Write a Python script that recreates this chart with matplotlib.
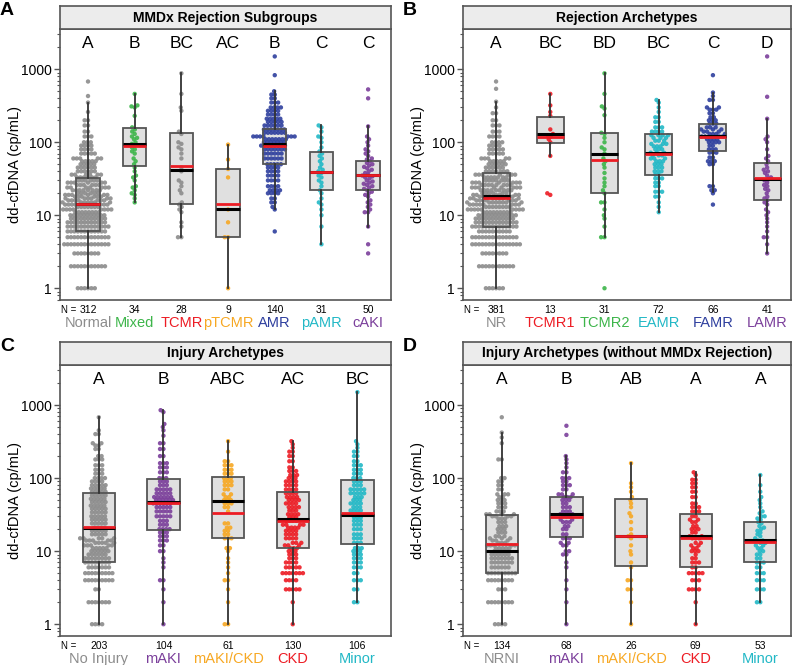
import numpy as np
import matplotlib.pyplot as plt
from matplotlib.ticker import LogLocator, NullFormatter

plt.rcParams['font.family'] = ['Liberation Sans', 'DejaVu Sans']

GRAY, GREEN, RED, ORANGE = '#8c8c8c', '#3db54a', '#ed1c24', '#f7a823'
BLUE, CYAN, PURPLE = '#2e3f9e', '#22b8c6', '#7b3f9b'

# ---------------- data ----------------
# points: plain value, or (value, count) for repeated values
A_title = "MMDx Rejection Subgroups"
A_groups = ["Normal", "Mixed", "TCMR", "pTCMR", "AMR", "pAMR", "cAKI"]
A_n = [312, 34, 28, 9, 140, 31, 50]
A_letters = ["A", "B", "BC", "AC", "B", "C", "C"]
A_label_colors = [GRAY, GREEN, RED, ORANGE, BLUE, CYAN, PURPLE]
A_point_colors = [GRAY, GREEN, GRAY, ORANGE, BLUE, CYAN, PURPLE]
A_q1 = [6.1, 48, 14.4, 5, 51, 22, 22]
A_med = [14.2, 96, 42, 12.2, 96, 39, 36]
A_q3 = [32, 158, 135, 43, 150, 73, 55]
A_lo = [1, 15, 5, 1, 12, 4, 7]
A_hi = [350, 460, 880, 93, 500, 170, 165]
A_mean = [14.3, 89, 48, 14.2, 89, 39, 36]
A_points = [
    [(1, 6), (2, 11), (3, 8), (4, 14), (5, 13), (6, 12), (7, 13), (8, 12), (9, 11), (10, 11),
     (11, 8), (12, 8), (13, 7), (14, 7), (15, 7), (16, 7), (17, 6), (18, 6), (19, 6), (20, 6),
     (22, 8), (24, 7), (26, 6), (28, 6), (30, 6), (33, 6), (36, 6), (40, 6), (45, 6), (50, 5),
     (55, 5), (60, 5), (70, 5), (80, 4), (90, 4), (100, 3), (120, 3), (140, 2), (170, 2),
     (200, 2), 260, 350, 430, 680],
    [460, 320, 310, 300, 230, 160, 150, 140, 130, 120, 115, 110, 100, 95, 90, 85, 80, 75,
     70, 60, 55, 50, 45, 40, 35, 33, 30, 25, 24, 22, 20, 19, 17, 15],
    [880, 460, 300, 270, 140, 130, 100, 95, 85, 80, 70, 60, 45, 40, 30, 28, 25, 22, 20, 15,
     14, 13, 12, 11, 8, 7, 5, 5],
    [93, 58, 43, 33, 12, 8, 5, 5, 1],
    [1500, 830, 500, (450, 2), (400, 2), (350, 3), (300, 4), (270, 4), (240, 4), (210, 5),
     (190, 5), (170, 6), (150, 7), (135, 7), (120, 7), (110, 7), (100, 7), (90, 8), (80, 7),
     (70, 6), (60, 6), (50, 5), (45, 4), (40, 4), (35, 4), (30, 4), (25, 4), (22, 4), (20, 4),
     (17, 2), (15, 2), 13, 12, 6],
    [170, 160, 140, 120, 115, 100, 85, 75, 70, 65, 60, 55, 50, 45, 42, 40, 38, 35, 33, 30,
     28, 25, 22, 20, 17, 15, 14, 12, 10, 7, 4],
    [530, 400, 165, 120, 110, 100, 90, 80, 75, 70, 65, 60, 58, 55, 52, 50, 48, 46, 44, 42,
     40, 38, 36, 35, 34, 33, 32, 30, 29, 28, 27, 26, 25, 24, 23, 22, 21, 20, 19, 18, 16, 15,
     14, 13, 12, 11, 11, 7, 4, 3],
]

B_title = "Rejection Archetypes"
B_groups = ["NR", "TCMR1", "TCMR2", "EAMR", "FAMR", "LAMR"]
B_n = [381, 13, 31, 72, 66, 41]
B_letters = ["A", "BC", "BD", "BC", "C", "D"]
B_label_colors = [GRAY, RED, GREEN, CYAN, BLUE, PURPLE]
B_point_colors = [GRAY, RED, GREEN, CYAN, BLUE, PURPLE]
B_q1 = [7, 97, 20.3, 36, 75, 16]
B_med = [18.4, 130, 70, 72, 122, 31.5]
B_q3 = [38, 225, 135, 128, 178, 52]
B_lo = [1, 65, 5, 11, 21, 3]
B_hi = [360, 460, 880, 380, 480, 210]
B_mean = [17.3, 118, 57, 68, 118, 32]
B_points = [
    [(1, 6), (2, 11), (3, 8), (4, 15), (5, 14), (6, 10), (7, 14), (8, 13), (9, 12), (10, 12),
     (11, 9), (12, 9), (13, 8), (14, 8), (15, 8), (16, 7), (17, 7), (18, 7), (19, 6), (20, 6),
     (22, 9), (24, 8), (26, 8), (28, 7), (30, 7), (33, 7), (36, 7), (40, 7), (45, 6), (50, 6),
     (55, 5), (60, 5), (70, 5), (80, 5), (90, 4), (100, 4), (120, 4), (140, 3), (170, 3),
     (200, 2), (250, 2), 300, 360, 540, 680],
    [460, 320, 260, 230, 150, 130, 125, 120, 110, 100, 65, 20, 19],
    [880, 460, 310, 290, 235, 135, 130, 115, 100, 85, 80, 70, 60, 55, 50, 45, 38, 32, 28, 25,
     22, 20, 15, 15, 12, 10, 9, 7, 5, 5, 1],
    [380, 350, 300, 260, (220, 2), (190, 2), (160, 3), (140, 4), (125, 4), (115, 3), (105, 3),
     (95, 3), (88, 3), (80, 3), (72, 3), (66, 3), (60, 3), (55, 3), (50, 3), (45, 3), (40, 3),
     (36, 2), (32, 3), (28, 2), (25, 2), (21, 3), (18, 2), 15, 13, 11],
    [830, 480, 430, (380, 2), (300, 2), (280, 3), (250, 2), (220, 2), (200, 3), (180, 3),
     (160, 3), (150, 3), (140, 3), (130, 4), (120, 4), (110, 4), (100, 4), (90, 2), (80, 3),
     (72, 3), (62, 2), (55, 3), (50, 2), (25, 2), (22, 2), 20, 14],
    [1500, 420, 210, 120, 110, 100, 80, 65, 60, 55, 50, 45, 42, 40, 38, 35, 33, 31, 30, 28,
     26, 25, 23, 22, 20, 18, 17, 16, 15, 14, 12, 11, 10, 9, 8, 7, 6, 5, 5, 4, 3],
]

C_title = "Injury Archetypes"
C_groups = ["No Injury", "mAKI", "mAKI/CKD", "CKD", "Minor"]
C_n = [203, 104, 61, 130, 106]
C_letters = ["A", "B", "ABC", "AC", "BC"]
C_label_colors = [GRAY, PURPLE, ORANGE, RED, CYAN]
C_point_colors = [GRAY, PURPLE, ORANGE, RED, CYAN]
C_q1 = [7, 19.7, 15, 11.1, 12.4]
C_med = [21, 47, 48.6, 27.3, 31]
C_q3 = [62, 97, 103, 64, 95]
C_lo = [1, 1, 1, 1, 2]
C_hi = [680, 850, 320, 320, 1500]
C_mean = [21.2, 45, 33.6, 26, 33.6]
C_points = [
    [(1, 4), (2, 7), (3, 2), (4, 9), (5, 9), (6, 7), (7, 8), (8, 8), (9, 6), (10, 6), (11, 5),
     (12, 5), (13, 5), (14, 5), (15, 5), (17, 5), (19, 5), (21, 4), (24, 5), (27, 5), (30, 5),
     (34, 5), (38, 5), (42, 5), (47, 5), (52, 5), (58, 5), (65, 5), (72, 5), (80, 5), (90, 4),
     (100, 4), (115, 3), (130, 3), (150, 3), (180, 3), (200, 2), (250, 2), (280, 2), (300, 2),
     (400, 2), 450, 680],
    [850, 800, 550, 500, 450, 380, (300, 2), (250, 2), (200, 2), (160, 3), (140, 3), (120, 3),
     (100, 3), (90, 3), (80, 3), (70, 5), (62, 5), (55, 6), (50, 6), (45, 6), (40, 5), (35, 5),
     (30, 5), (26, 3), (23, 3), (20, 4), (18, 3), (16, 3), (14, 3), (12, 2), (10, 2), 8, 7, 6,
     (4, 2), 3, 2, 1],
    [320, 230, (170, 2), (150, 3), (130, 3), (115, 3), (100, 3), (90, 3), (80, 3), (70, 2),
     (60, 2), (55, 2), (50, 3), (45, 3), (40, 2), 35, (24, 2), (21, 2), (19, 2), (17, 2),
     (15, 3), (11, 2), 10, 8, 7, 6, 5, (4, 2), 3, 2, (1, 2)],
    [320, 290, 260, (230, 2), (200, 2), (170, 2), (140, 2), (125, 3), (110, 3), (100, 3),
     (90, 4), (80, 4), (70, 4), (62, 4), (55, 4), (50, 4), (45, 4), (40, 4), (36, 3), (32, 4),
     (29, 3), (26, 4), (23, 4), (21, 4), (19, 4), (17, 4), (15, 4), (13, 3), (12, 3), (11, 3),
     (10, 3), (9, 3), (8, 3), (7, 4), (6, 5), (5, 7), (4, 4), (3, 5), 2, 1],
    [1500, 320, 290, 260, (230, 2), (200, 2), (170, 2), (150, 3), (130, 3), (115, 3), (100, 3),
     (90, 3), (80, 3), (70, 5), (62, 5), (55, 3), (50, 3), (45, 4), (40, 3), (36, 4), (32, 3),
     (29, 3), (26, 3), (23, 3), (20, 3), (17, 3), (15, 3), (13, 3), (11, 3), (10, 3), (9, 3),
     (8, 3), (7, 3), (6, 3), (5, 2), (4, 3), (3, 2), (2, 2)],
]

D_title = "Injury Archetypes (without MMDx Rejection)"
D_groups = ["NRNI", "mAKI", "mAKI/CKD", "CKD", "Minor"]
D_n = [134, 68, 26, 69, 53]
D_letters = ["A", "B", "AB", "A", "A"]
D_label_colors = [GRAY, PURPLE, ORANGE, RED, CYAN]
D_point_colors = [GRAY, PURPLE, ORANGE, RED, CYAN]
D_q1 = [5, 15.8, 6.3, 6, 7]
D_med = [10.1, 32, 16.3, 16.1, 14.1]
D_q3 = [31, 55, 51, 32, 25.3]
D_lo = [1, 1, 1, 1, 2]
D_hi = [420, 200, 160, 120, 110]
D_mean = [12.5, 29.7, 16.3, 15, 13.2]
D_points = [
    [(1, 4), (2, 8), (3, 3), (4, 8), (5, 9), (6, 6), (7, 7), (8, 7), (9, 6), (10, 5), (11, 5),
     (12, 5), (13, 3), (14, 3), (15, 3), (16, 3), (18, 3), (20, 3), (22, 3), (25, 3), (28, 3),
     (30, 4), (32, 4), (35, 3), (40, 3), (45, 3), (50, 3), (55, 2), (60, 3), (70, 2), (80, 2),
     (90, 2), (100, 2), (180, 2), 300, 360, 420, 680],
    [520, 390, 200, 180, 160, 140, (120, 2), (100, 3), (90, 2), (80, 3), (70, 2), (60, 3),
     (55, 3), (50, 3), (45, 2), (40, 3), (35, 3), (32, 2), (30, 3), (27, 2), (25, 3), (22, 2),
     (20, 2), (17, 2), (15, 3), (13, 2), (12, 2), (10, 2), (9, 2), 7, 6, 4, 3, 2, 1],
    [160, 85, 75, 65, 55, 50, 45, 40, 33, 30, 25, 20, 17, 16, 15, 12, 10, 9, 7, 6, 4, 4, 3,
     3, 2, 1],
    [120, 110, (95, 2), (85, 2), (75, 2), (65, 2), (55, 2), (45, 2), (40, 3), (35, 3), (30, 2),
     (27, 2), (25, 2), (22, 2), (20, 3), (18, 2), (16, 2), (15, 3), (13, 2), (12, 2), (11, 2),
     (10, 3), 9, (8, 2), (7, 3), (6, 2), (5, 5), (4, 3), (3, 4), 2, 1],
    [110, 80, 65, 55, 50, 45, 40, 35, 33, 30, 30, 28, 27, 25, 24, 22, 21, 20, 19, 18, 17, 16,
     15, 14, 14, 13, 13, 12, 12, 11, 11, 10, 10, 9, 9, 8, 8, 7, 7, 7, 6, 6, 5, 5, 5, 4, 4, 4,
     3, 3, 3, 2, 2],
]

# ---------------- layout ----------------
W, H = 800, 665
YLIM = (0.69, 3530)
DOT_D = 3.4      # swarm spacing in px

panels = [
    dict(tag="A", title=A_title, groups=A_groups, n=A_n, letters=A_letters,
         lc=A_label_colors, pc=A_point_colors, q1=A_q1, med=A_med, q3=A_q3, lo=A_lo,
         hi=A_hi, mean=A_mean, pts=A_points, box=(60, 391, 29.3, 300), xlim=(0.4, 7.49)),
    dict(tag="B", title=B_title, groups=B_groups, n=B_n, letters=B_letters,
         lc=B_label_colors, pc=B_point_colors, q1=B_q1, med=B_med, q3=B_q3, lo=B_lo,
         hi=B_hi, mean=B_mean, pts=B_points, box=(463, 791, 29.3, 300), xlim=(0.39, 6.44)),
    dict(tag="C", title=C_title, groups=C_groups, n=C_n, letters=C_letters,
         lc=C_label_colors, pc=C_point_colors, q1=C_q1, med=C_med, q3=C_q3, lo=C_lo,
         hi=C_hi, mean=C_mean, pts=C_points, box=(60, 391, 365, 636), xlim=(0.4, 5.52)),
    dict(tag="D", title=D_title, groups=D_groups, n=D_n, letters=D_letters,
         lc=D_label_colors, pc=D_point_colors, q1=D_q1, med=D_med, q3=D_q3, lo=D_lo,
         hi=D_hi, mean=D_mean, pts=D_points, box=(463, 791, 365, 636), xlim=(0.4, 5.475)),
]


def expand(items):
    out = []
    for it in items:
        if isinstance(it, tuple):
            out += [it[0]] * it[1]
        else:
            out.append(it)
    return np.array(out, float)


def swarm_x(vals, d, ppd):
    # simple beeswarm in pixel space, returns x offsets in px
    y = np.log10(vals) * ppd
    order = np.argsort(y, kind='stable')
    xs = np.zeros(len(y))
    px, py = [], []
    for i in order:
        yi = y[i]
        near = [(a, b) for a, b in zip(px, py) if abs(b - yi) < d]
        cands = [0.0]
        for a, b in near:
            dx = np.sqrt(d * d - (b - yi) ** 2)
            cands += [a - dx, a + dx]
        cands.sort(key=lambda c: (abs(c), c))
        for c in cands:
            if all((c - a) ** 2 + (yi - b) ** 2 >= d * d - 1e-6 for a, b in near):
                break
        xs[i] = c
        px.append(c)
        py.append(yi)
    return xs


fig = plt.figure(figsize=(W / 100, H / 100), dpi=100)
EDGE = '#555555'

for p in panels:
    l, r, t, b = p['box']
    ax = fig.add_axes([l / W, 1 - b / H, (r - l) / W, (b - t) / H])
    ax.set_yscale('log')
    ax.set_ylim(YLIM)
    ax.set_xlim(p['xlim'])
    ppu = (r - l) / (p['xlim'][1] - p['xlim'][0])
    ppd = (b - t) / (np.log10(YLIM[1]) - np.log10(YLIM[0]))

    k = len(p['groups'])
    pos = np.arange(1, k + 1)
    stats = [dict(q1=p['q1'][i], med=p['med'][i], q3=p['q3'][i], whislo=p['lo'][i],
                  whishi=p['hi'][i], mean=p['mean'][i], fliers=[]) for i in range(k)]

    # box fill underneath the points
    ax.bxp(stats, positions=pos, widths=0.5, patch_artist=True, showcaps=False,
           showfliers=False, boxprops=dict(facecolor='#e0e0e0', edgecolor='none'),
           whiskerprops=dict(linewidth=0), medianprops=dict(linewidth=0), zorder=1)

    for i in range(k):
        vals = expand(p['pts'][i])
        xo = swarm_x(vals, DOT_D, ppd) / ppu
        ax.scatter(pos[i] + xo, vals, s=10, color=p['pc'][i], edgecolors='none',
                   alpha=0.9, zorder=2)

    # outlines, whiskers, median (black) and mean (red) on top
    ax.bxp(stats, positions=pos, widths=0.5, patch_artist=True, showcaps=False,
           showfliers=False, showmeans=True, meanline=True,
           boxprops=dict(facecolor='none', edgecolor=EDGE, linewidth=1.3),
           whiskerprops=dict(color='#333333', linewidth=1.3),
           medianprops=dict(color='black', linewidth=2.2),
           meanprops=dict(color=RED, linestyle='-', linewidth=2.0), zorder=3)

    ax.set_xlim(p['xlim'])
    ax.set_xticks([])
    ax.set_yticks([1, 10, 100, 1000])
    ax.set_yticklabels(['1', '10', '100', '1000'], fontsize=10)
    ax.yaxis.set_minor_locator(LogLocator(base=10, subs=np.arange(2, 10)))
    ax.yaxis.set_minor_formatter(NullFormatter())
    ax.tick_params(axis='y', which='major', length=4, width=1, color=EDGE, pad=2)
    ax.tick_params(axis='y', which='minor', length=2.5, width=0.8, color=EDGE)
    for s in ax.spines.values():
        s.set_color(EDGE)
        s.set_linewidth(1.2)

    xt = ax.get_xaxis_transform()
    for i in range(k):
        ax.text(pos[i], 0.948, p['letters'][i], transform=xt, ha='center', va='center',
                fontsize=12.5)
        ax.text(pos[i], -0.037, str(p['n'][i]), transform=xt, ha='center', va='center',
                fontsize=7.5)
        ax.text(pos[i], -0.085, p['groups'][i], transform=xt, ha='center', va='center',
                fontsize=10.5, color=p['lc'][i])
    ax.text(0.003, -0.037, "N =", transform=ax.transAxes, ha='left', va='center',
            fontsize=7)

    # strip header
    sh = 23.5
    sax = fig.add_axes([l / W, 1 - t / H, (r - l) / W, sh / H])
    sax.set_facecolor('#ececec')
    sax.set_xticks([])
    sax.set_yticks([])
    for s in sax.spines.values():
        s.set_color(EDGE)
        s.set_linewidth(1.2)
    sax.text(0.5, 0.5, p['title'], ha='center', va='center', fontsize=10,
             fontweight='bold', transform=sax.transAxes)

    fig.text((l - 45) / W, 1 - (t + b) / 2 / H, "dd-cfDNA (cp/mL)", rotation=90,
             ha='center', va='center', fontsize=10.5)
    fig.text((l - 60) / W, 1 - (t - 27) / H, p['tag'], ha='left', va='top',
             fontsize=14, fontweight='bold')

fig.savefig("out.png", dpi=100)
